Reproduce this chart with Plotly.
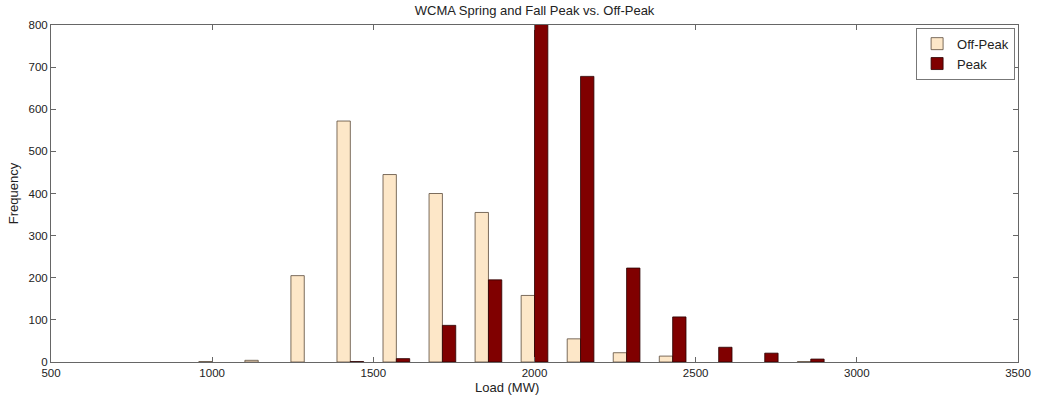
import plotly.graph_objects as go

# Bin centers (MW)
bin_centers = [1000, 1142.9, 1285.7, 1428.6, 1571.4, 1714.3, 1857.1,
               2000, 2142.9, 2285.7, 2428.6, 2571.4, 2714.3, 2857.1]
# None = empty bin (no bar drawn)
off_peak = [1, 4, 205, 572, 445, 400, 355, 158, 55, 22, 14, None, None, 1]
peak = [None, None, None, 1, 8, 87, 195, 830, 678, 223, 107, 35, 21, 7]

x_ticks = [500, 1000, 1500, 2000, 2500, 3000, 3500]
y_ticks = [0, 100, 200, 300, 400, 500, 600, 700, 800]

FONT = "Liberation Sans, Arial"

fig = go.Figure()
fig.add_trace(go.Bar(x=bin_centers, y=off_peak, name="Off-Peak",
                     marker=dict(color="#FDE7C8", line=dict(color="#5a4a3a", width=0.8))))
fig.add_trace(go.Bar(x=bin_centers, y=peak, name="Peak",
                     marker=dict(color="#800000", line=dict(color="#2a0000", width=0.8))))

axis_common = dict(showline=True, linecolor="#666666", linewidth=1, mirror="ticks",
                   ticks="inside", ticklen=5, tickcolor="#666666", showgrid=False,
                   zeroline=False, automargin=False,
                   tickfont=dict(family=FONT, size=11.5, color="#222"))

fig.update_layout(
    width=1039, height=402,
    margin=dict(l=51, r=21, t=25, b=40),
    paper_bgcolor="white", plot_bgcolor="white",
    barmode="group", bargap=0.42, bargroupgap=0,
    title=dict(text="WCMA Spring and Fall Peak vs. Off-Peak", x=0.5145, xanchor="center",
               y=0.975, yanchor="middle",
               font=dict(family=FONT, size=13, color="#222")),
    xaxis=dict(range=[500, 3500], tickvals=x_ticks, **axis_common),
    yaxis=dict(range=[0, 800], tickvals=y_ticks,
               title=dict(text="Frequency", standoff=6,
                          font=dict(family=FONT, size=13, color="#222")),
               **axis_common),
    legend=dict(x=0.997, y=0.992, xanchor="right", yanchor="top",
                bgcolor="white", bordercolor="#777777", borderwidth=1,
                font=dict(family=FONT, size=13, color="#222"),
                tracegroupgap=0, itemwidth=30),
    showlegend=True,
    annotations=[dict(text="Load (MW)", xref="paper", yref="paper", x=0.4716, y=-0.077,
                      xanchor="center", yanchor="middle", showarrow=False,
                      font=dict(family=FONT, size=13, color="#222"))],
)

fig.write_html("out.html")
